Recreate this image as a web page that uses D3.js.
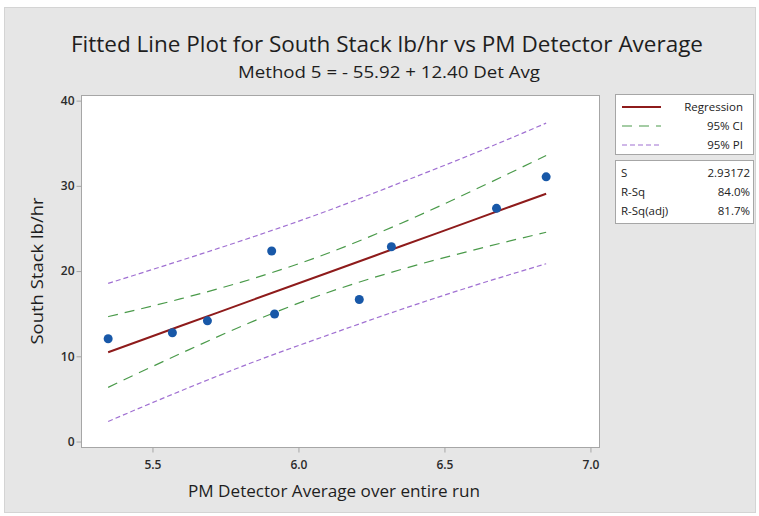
<!DOCTYPE html>
<html>
<head>
<meta charset="utf-8">
<script src="https://cdn.jsdelivr.net/npm/d3@7"></script>
<style>
  body { margin: 0; background: #fff; }
  text { font-family: "Open Sans", "Noto Sans", sans-serif; }
</style>
</head>
<body>
<svg width="759" height="516"></svg>
<script>
// observed points
const detAvg = [5.35, 5.57, 5.69, 5.91, 5.92, 6.21, 6.32, 6.68, 6.85];
const southStack = [12.0, 12.7, 14.1, 22.3, 14.9, 16.6, 22.8, 27.3, 31.0];

// fitted line and bands
const bandX = [5.35, 5.6, 5.85, 6.1, 6.35, 6.6, 6.85];
const fitY = [10.42, 13.52, 16.62, 19.72, 22.82, 25.92, 29.02];
const ciLow = [6.3, 10.3, 14.1, 17.4, 20.1, 22.4, 24.5];
const ciHigh = [14.6, 16.7, 19.1, 22.0, 25.5, 29.4, 33.5];
const piLow = [2.3, 5.9, 9.3, 12.4, 15.4, 18.2, 20.8];
const piHigh = [18.5, 21.2, 24.0, 27.0, 30.3, 33.7, 37.3];

const xTicks = [5.5, 6.0, 6.5, 7.0];
const yTicks = [0, 10, 20, 30, 40];

const legendItems = ["Regression", "95% CI", "95% PI"];
const statNames = ["S", "R-Sq", "R-Sq(adj)"];
const statValues = ["2.93172", "84.0%", "81.7%"];

const svg = d3.select("svg");

// outer panel
svg.append("rect")
   .attr("x", 4.5).attr("y", 7.5)
   .attr("width", 751).attr("height", 505)
   .attr("fill", "#e6e6e6")
   .attr("stroke", "#d4d4d4");

const plot = {left: 81, top: 95, right: 599, bottom: 447};

const x = d3.scaleLinear().domain([5.257, 7.031]).range([plot.left, plot.right]);
const y = d3.scaleLinear().domain([-0.7, 40.6]).range([plot.bottom, plot.top]);

svg.append("rect")
   .attr("x", plot.left + 0.5).attr("y", plot.top + 0.5)
   .attr("width", plot.right - plot.left).attr("height", plot.bottom - plot.top)
   .attr("fill", "#fff")
   .attr("stroke", "#a6a6a6");

// axes
const xAxis = svg.append("g")
   .attr("transform", `translate(0.5,${plot.bottom + 0.5})`)
   .call(d3.axisBottom(x).tickValues(xTicks).tickFormat(d3.format(".1f")).tickSize(5).tickSizeOuter(0));
const yAxis = svg.append("g")
   .attr("transform", `translate(${plot.left + 0.5},0.5)`)
   .call(d3.axisLeft(y).tickValues(yTicks).tickSize(5).tickSizeOuter(0));

[xAxis, yAxis].forEach(g => {
  g.select(".domain").remove();
  g.selectAll(".tick line").attr("stroke", "#a6a6a6");
  g.selectAll(".tick text")
   .attr("fill", "#2b2b2b")
   .style("font-size", "12px")
   .style("font-weight", "600")
   .style("font-family", "'Open Sans', sans-serif");
});
xAxis.selectAll(".tick text").attr("dy", "1.1em");
yAxis.selectAll(".tick text").attr("x", -7);

const lineOf = vals => d3.line()
  .x((d, i) => x(bandX[i]))
  .y(d => y(d))
  .curve(d3.curveMonotoneX)(vals);

const bands = [
  {vals: piHigh, color: "#a070d2", dash: "5,3", w: 1.2},
  {vals: piLow, color: "#a070d2", dash: "5,3", w: 1.2},
  {vals: ciHigh, color: "#4a9a4a", dash: "10,7", w: 1.2},
  {vals: ciLow, color: "#4a9a4a", dash: "10,7", w: 1.2},
  {vals: fitY, color: "#8e1b1b", dash: null, w: 2}
];

svg.append("g")
   .selectAll("path")
   .data(bands)
   .enter()
   .append("path")
     .attr("d", d => lineOf(d.vals))
     .attr("fill", "none")
     .attr("stroke", d => d.color)
     .attr("stroke-width", d => d.w)
     .attr("stroke-dasharray", d => d.dash);

svg.append("g")
   .selectAll("circle")
   .data(detAvg)
   .enter()
   .append("circle")
     .attr("cx", d => x(d))
     .attr("cy", (d, i) => y(southStack[i]))
     .attr("r", 4.5)
     .attr("fill", "#1858a8");

// titles
svg.append("text")
   .attr("x", 387).attr("y", 52)
   .attr("text-anchor", "middle")
   .attr("textLength", 632).attr("lengthAdjust", "spacingAndGlyphs")
   .style("font-size", "21px")
   .attr("fill", "#1e1e1e")
   .text("Fitted Line Plot for South Stack lb/hr vs PM Detector Average");
svg.append("text")
   .attr("x", 389).attr("y", 78)
   .attr("text-anchor", "middle")
   .attr("textLength", 302).attr("lengthAdjust", "spacingAndGlyphs")
   .style("font-size", "16px")
   .attr("fill", "#1e1e1e")
   .text("Method 5 = - 55.92 + 12.40 Det Avg");

svg.append("text")
   .attr("x", 334).attr("y", 497)
   .attr("text-anchor", "middle")
   .attr("textLength", 292).attr("lengthAdjust", "spacingAndGlyphs")
   .style("font-size", "16px")
   .attr("fill", "#1e1e1e")
   .text("PM Detector Average over entire run");
svg.append("text")
   .attr("transform", "translate(43,271) rotate(-90)")
   .attr("text-anchor", "middle")
   .attr("textLength", 147).attr("lengthAdjust", "spacingAndGlyphs")
   .style("font-size", "16px")
   .attr("fill", "#1e1e1e")
   .text("South Stack lb/hr");

// legend
const leg = svg.append("g");
leg.append("rect")
   .attr("x", 615.5).attr("y", 94.5).attr("width", 138).attr("height", 60)
   .attr("fill", "#fff").attr("stroke", "#a6a6a6");
const legRows = leg.selectAll("g.row")
   .data(legendItems)
   .enter()
   .append("g")
   .attr("class", "row")
   .attr("transform", (d, i) => `translate(0,${107 + i * 19})`);
legRows.append("line")
   .attr("x1", 622).attr("x2", 661)
   .attr("stroke", (d, i) => [bands[4], bands[2], bands[0]][i].color)
   .attr("stroke-width", (d, i) => i === 0 ? 2 : 1.2)
   .attr("stroke-dasharray", (d, i) => [null, "10,7", "5,3"][i]);
legRows.append("text")
   .attr("x", 743).attr("y", 4)
   .attr("text-anchor", "end")
   .style("font-size", "11.5px")
   .attr("fill", "#222")
   .text(d => d);

leg.append("rect")
   .attr("x", 615.5).attr("y", 160.5).attr("width", 138).attr("height", 63)
   .attr("fill", "#fff").attr("stroke", "#a6a6a6");
const statRows = leg.selectAll("g.stat")
   .data(statNames)
   .enter()
   .append("g")
   .attr("class", "stat")
   .attr("transform", (d, i) => `translate(0,${173 + i * 19})`);
statRows.append("text")
   .attr("x", 621).attr("y", 4)
   .style("font-size", "11.5px")
   .attr("fill", "#222")
   .text(d => d);
statRows.append("text")
   .attr("x", 750).attr("y", 4)
   .attr("text-anchor", "end")
   .style("font-size", "11.5px")
   .attr("fill", "#222")
   .text((d, i) => statValues[i]);
</script>
</body>
</html>
